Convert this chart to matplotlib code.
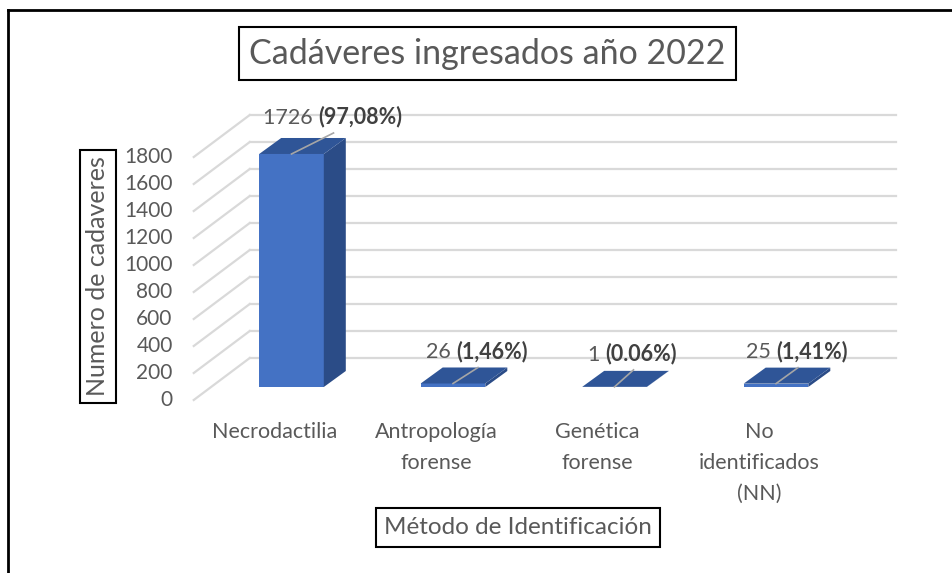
import matplotlib
matplotlib.use('agg')
import matplotlib.pyplot as plt
from matplotlib.patches import Polygon, Rectangle
from matplotlib.lines import Line2D
from matplotlib.offsetbox import TextArea, HPacker, AnnotationBbox

# data
categories = ['Necrodactilia', 'Antropología\nforense', 'Genética\nforense', 'No\nidentificados\n(NN)']
counts = [1726, 26, 1, 25]
pct_labels = ['(97,08%)', '(1,46%)', '(0.06%)', '(1,41%)']
yticks = list(range(0, 2000, 200))

title = 'Cadáveres ingresados año 2022'
xlabel = 'Método de Identificación'
ylabel = 'Numero de cadaveres'

plt.rcParams['font.family'] = ['Lato', 'DejaVu Sans']
TXT = '#595959'
GRID = '#D9D9D9'
FRONT = '#4472C4'
TOP = '#2F5597'
SIDE = '#2B4C87'

W, H = 953, 573
fig = plt.figure(figsize=(W / 100, H / 100), dpi=100)

# front plane of the bars (pixel geometry of the 3D projection)
left_px, bottom_px, width_px, height_px = 210.75, 387, 646, 243
ax = fig.add_axes([left_px / W, (H - bottom_px) / H, width_px / W, height_px / H])
ax.set_xlim(-0.5, 3.5)
ax.set_ylim(0, 1800)
ax.axis('off')

ux = width_px / 4.0        # px per category
uy = height_px / 1800.0    # px per unit


def off(px, py):
    return px / ux, py / uy


bx, by = off(39, 29)    # back wall
tx, ty = off(-17, -13)  # tick plane
dx, dy = off(22, 16)    # bar depth

# back wall grid + side wall diagonals
for t in yticks:
    ax.add_line(Line2D([-0.5 + bx, 3.5 + bx], [t + by, t + by], color=GRID, lw=1.6,
                       clip_on=False, zorder=1))
    ax.add_line(Line2D([-0.5 + tx, -0.5 + bx], [t + ty, t + by], color=GRID, lw=1.6,
                       clip_on=False, zorder=1))
    ax.text(-0.5 + tx - 21 / ux, t + ty, str(t), ha='right', va='center',
            fontsize=15, color=TXT)

# category labels
for i, c in enumerate(categories):
    ax.text(i + tx, ty - 22 / uy, c, ha='center', va='top', fontsize=15.5,
            color=TXT, linespacing=1.68)

# bars
bw = 0.4
for i, v in enumerate(counts):
    x0, x1 = i - bw / 2, i + bw / 2
    ax.add_patch(Rectangle((x0, 0), bw, v, fc=FRONT, ec='none', zorder=3, clip_on=False))
    ax.add_patch(Polygon([(x1, 0), (x1 + dx, dy), (x1 + dx, v + dy), (x1, v)],
                         closed=True, fc=SIDE, ec='none', zorder=3, clip_on=False))
    ax.add_patch(Polygon([(x0, v), (x1, v), (x1 + dx, v + dy), (x0 + dx, v + dy)],
                         closed=True, fc=TOP, ec='none', zorder=3, clip_on=False))

# value labels with leader lines
label_dx = [41, 24, 18, 21]
label_dy = [37, 32, 33, 32]
for i, v in enumerate(counts):
    lx, ly = off(label_dx[i], label_dy[i])
    ex, ey = off(label_dx[i] + 1, label_dy[i] - 16)
    ax.add_line(Line2D([i, i + ex], [v, v + ey], color='#A6A6A6', lw=1.2,
                       clip_on=False, zorder=4))
    parts = HPacker(children=[
        TextArea(f'{v} ', textprops=dict(fontsize=15.5, color=TXT)),
        TextArea(pct_labels[i], textprops=dict(fontsize=15.5, color='#404040', fontweight='bold')),
    ], align='baseline', pad=0, sep=0)
    ab = AnnotationBbox(parts, (i + lx, v + ly), frameon=False, box_alignment=(0.5, 0.5),
                        annotation_clip=False, zorder=5)
    ax.add_artist(ab)

fig.text(487.5 / W, 1 - 53.5 / H, title, ha='center', va='center', fontsize=24.5,
         color=TXT, bbox=dict(boxstyle='square,pad=0.3', fc='white', ec='black', lw=1.5))
fig.text(518 / W, 1 - 527.5 / H, xlabel, ha='center', va='center', fontsize=17.5,
         color=TXT, bbox=dict(boxstyle='square,pad=0.35', fc='white', ec='black', lw=1.5))
fig.text(98 / W, 1 - 276.5 / H, ylabel, ha='center', va='center', fontsize=18,
         color=TXT, rotation=90, bbox=dict(boxstyle='square,pad=0.25', fc='white', ec='black', lw=1.5))

# outer chart border (top and left edges)
fig.add_artist(Line2D([8 / W, 1], [1 - 10 / H, 1 - 10 / H], color='black', lw=2))
fig.add_artist(Line2D([8 / W, 8 / W], [0, 1 - 10 / H], color='black', lw=2))

fig.savefig('out.png', dpi=100)
